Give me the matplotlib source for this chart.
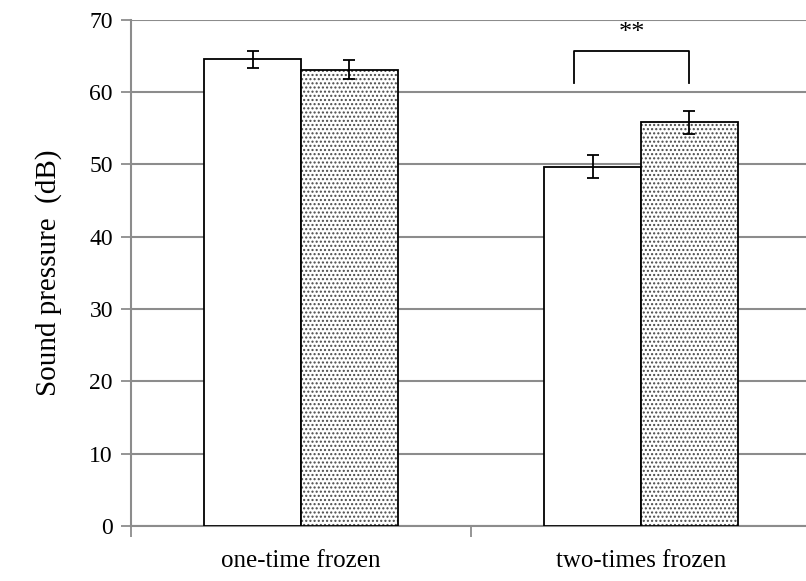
import numpy as np
import matplotlib
matplotlib.use("Agg")
import matplotlib.pyplot as plt

plt.rcParams['font.family'] = ['Liberation Serif', 'DejaVu Serif']
plt.rcParams['hatch.linewidth'] = 1.0

categories = ['one-time frozen', 'two-times frozen']
plain_vals = [64.5, 49.7]
plain_err = [1.2, 1.6]
dotted_vals = [63.1, 55.8]
dotted_err = [1.3, 1.6]
y_ticks = [0, 10, 20, 30, 40, 50, 60, 70]

grid_col = '#8c8c8c'
bw = 0.285

fig = plt.figure(figsize=(8.06, 5.81), dpi=100)
ax = fig.add_axes([131 / 806, 55 / 581, 680 / 806, 506.3 / 581])

x = np.arange(len(categories))
xp = x - bw / 2
xd = x + bw / 2

# white bars
ax.bar(xp, plain_vals, bw, color='white', edgecolor='black', linewidth=1.3, zorder=3)
# dotted bars: hatch layer first, then the black outline on top
ax.bar(xd, dotted_vals, bw, color='white', edgecolor='#4a4a4a', hatch='....',
       linewidth=0, zorder=3)
ax.bar(xd, dotted_vals, bw, color='none', edgecolor='black', linewidth=1.3, zorder=4)

ax.errorbar(xp, plain_vals, yerr=plain_err, fmt='none', ecolor='black',
            elinewidth=1.3, capsize=4, capthick=1.3, zorder=5)
ax.errorbar(xd, dotted_vals, yerr=dotted_err, fmt='none', ecolor='black',
            elinewidth=1.3, capsize=4, capthick=1.3, zorder=5)

# significance bracket
bx1, bx2 = 0.803, xd[1]
ax.plot([bx1, bx1, bx2, bx2], [61.3, 65.7, 65.7, 61.3], color='black', lw=1.3, zorder=5)
ax.text((bx1 + bx2) / 2, 68.2, '**', ha='center', va='center', fontsize=19)

ax.set_xlim(-0.5, 1.5)
ax.set_ylim(0, 70)
ax.set_yticks(y_ticks)
ax.tick_params(axis='y', labelsize=17, length=7, width=1.3, color=grid_col, pad=6)
ax.set_xticks(x)
ax.set_xticklabels(categories, fontsize=18)
ax.tick_params(axis='x', which='major', length=0, pad=17)
ax.set_xticks([-0.5, 0.5, 1.5], minor=True)
ax.tick_params(axis='x', which='minor', length=8, width=1.3, color=grid_col)

ax.yaxis.grid(True, color=grid_col, linewidth=1.5, zorder=0)
ax.set_axisbelow(True)
for s in ['top', 'right']:
    ax.spines[s].set_visible(False)
for s in ['left', 'bottom']:
    ax.spines[s].set_color(grid_col)
    ax.spines[s].set_linewidth(1.5)

ax.set_ylabel('Sound pressure  (dB)', fontsize=21, labelpad=20)

fig.savefig('out.png', dpi=100)
